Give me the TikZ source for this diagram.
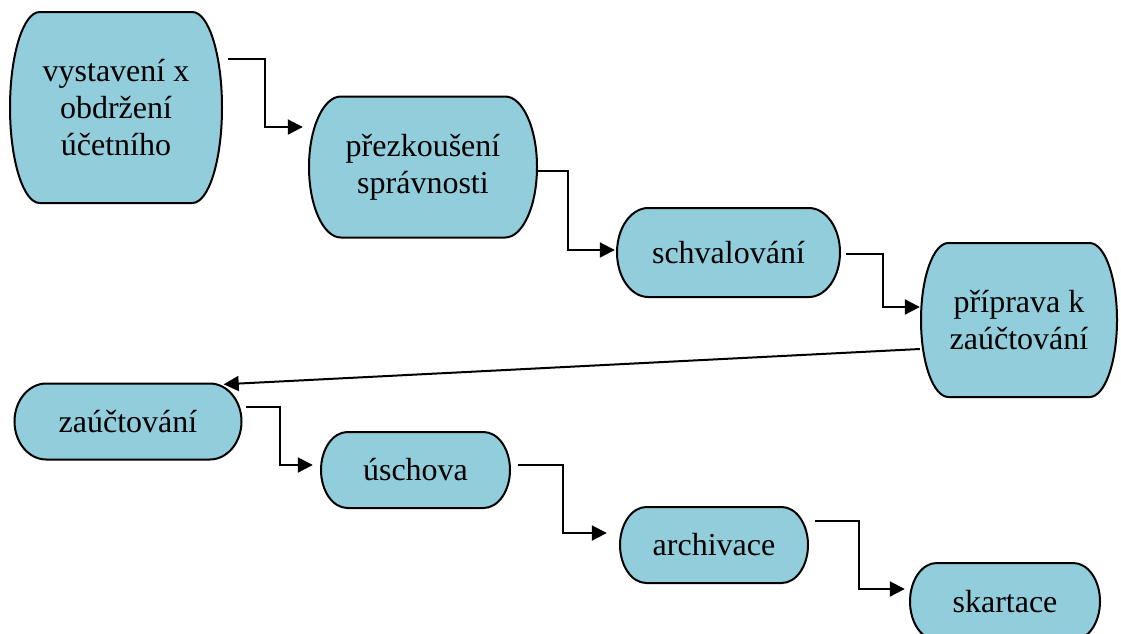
\documentclass[tikz,border=0pt]{standalone}
\usepackage{fontspec}
\setmainfont{Liberation Serif}
\usetikzlibrary{arrows.meta,calc}
\definecolor{boxfill}{RGB}{146,205,220}
\tikzset{
  txt/.style={inner sep=0pt, align=center, font=\fontsize{32}{37}\selectfont, text=black},
  boxline/.style={draw=black, line width=2pt, fill=boxfill},
  conn/.style={draw=black, line width=2pt, -{Triangle[length=15pt,width=15pt]}},
}
% name, cx, cy (pixel, y down), w, h, text
\newcommand\tbox[6]{%
  \pgfmathsetmacro\rxx{0.14*#4}%
  \pgfmathsetmacro\ryy{#5/2}%
  \path[boxline] (#2-#4/2+\rxx,-#3+#5/2) -- (#2+#4/2-\rxx,-#3+#5/2)
    arc[start angle=90,end angle=-90,x radius=\rxx,y radius=\ryy]
    -- (#2-#4/2+\rxx,-#3-#5/2)
    arc[start angle=270,end angle=90,x radius=\rxx,y radius=\ryy] -- cycle;
  \node[txt, minimum width=#4pt, minimum height=#5pt] (#1) at (#2,-#3) {#6};
}
\begin{document}
\begin{tikzpicture}[x=1pt,y=1pt]
\useasboundingbox (0,0) rectangle (1121,-633);
\tbox{v}{116}{107.5}{212}{191}{vystavení x\\obdržení\\účetního}
\tbox{p}{423}{167}{228}{141}{přezkoušení\\správnosti}
\tbox{s}{728.5}{252.5}{223}{89}{schvalování}
\tbox{r}{1019}{320}{196}{154}{příprava k\\zaúčtování}
\tbox{z}{128}{421.5}{227}{76}{zaúčtování}
\tbox{u}{415.5}{470}{189}{76}{úschova}
\tbox{a}{714}{545}{188}{76}{archivace}
\tbox{k}{1005}{601.5}{190}{77}{skartace}

\draw[conn] ($(v.east)+(6,48.5)$) -- ++(37,0) |- ($(p.west)+(-6,40)$);
\draw[conn] ($(p.east)+(1,-4)$) -- ++(30,0) |- ($(s.west)+(-2,2.5)$);
\draw[conn] ($(s.east)+(6,-1.5)$) -- ++(37,0) |- ($(r.west)+(-1,13)$);
\draw[conn] ($(r.west)+(-1,-29)$) -- ($(z.north east)+(-18,-1)$);
\draw[conn] ($(z.east)+(4,14.5)$) -- ++(34,0) |- ($(u.west)+(-8,5)$);
\draw[conn] ($(u.east)+(8,5)$) -- ++(45,0) |- ($(a.west)+(-13,12)$);
\draw[conn] ($(a.east)+(7,24)$) -- ++(44,0) |- ($(k.west)+(-5,12.5)$);
\end{tikzpicture}
\end{document}
